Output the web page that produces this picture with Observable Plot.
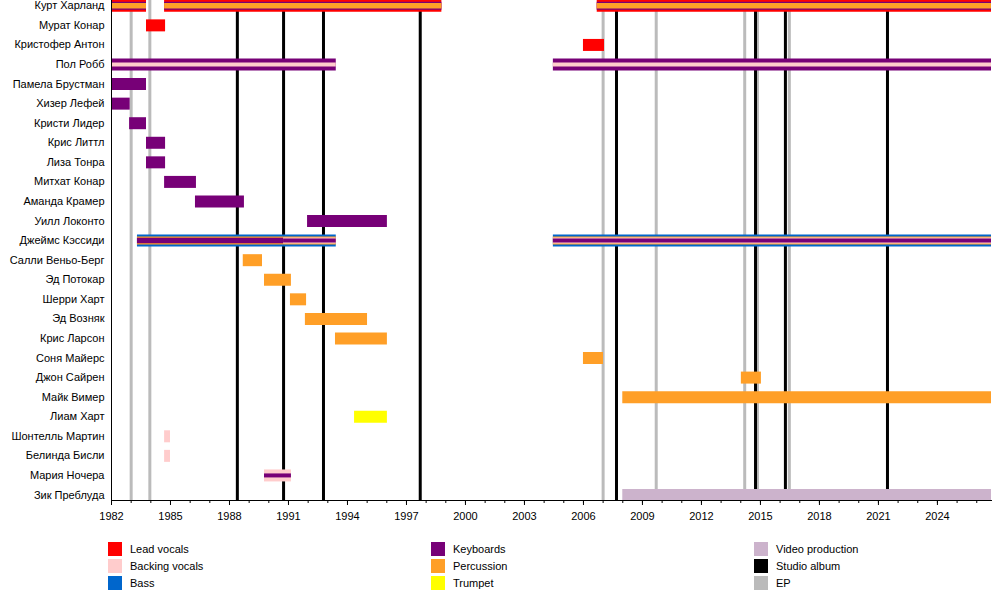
<!DOCTYPE html>
<html>
<head>
<meta charset="utf-8">
<script src="https://cdn.jsdelivr.net/npm/d3@7"></script>
<script src="https://cdn.jsdelivr.net/npm/@observablehq/plot@0.6"></script>
<style>
  body { margin: 0; background: #fff; font-family: "Liberation Sans", Arial, sans-serif; }
  #wrap { position: relative; width: 1000px; height: 600px; }
  #legend { position: absolute; left: 0; top: 0; width: 1000px; height: 600px; pointer-events: none; }
  .item { position: absolute; font-size: 11px; color: #000; height: 14px; line-height: 14px; white-space: nowrap; }
  .sw { position: absolute; left: 0; top: 0; width: 14px; height: 14px; }
  .lab { position: absolute; left: 22px; top: 0; }
</style>
</head>
<body>
<div id="wrap"><div id="chart"></div><div id="legend"></div></div>
<script>
const END = 2026.75;

const members = ["Курт Харланд","Мурат Конар","Кристофер Антон","Пол Робб","Памела Брустман","Хизер Лефей","Кристи Лидер","Крис Литтл","Лиза Тонра","Митхат Конар","Аманда Крамер","Уилл Локонто","Джеймс Кэссиди","Салли Веньо-Берг","Эд Потокар","Шерри Харт","Эд Возняк","Крис Ларсон","Соня Майерс","Джон Сайрен","Майк Вимер","Лиам Харт","Шонтелль Мартин","Белинда Бисли","Мария Ночера","Зик Преблуда"];

const roles = ["Lead vocals","Backing vocals","Bass","Keyboards","Percussion","Trumpet","Video production"];
const roleColors = ["#ff0000","#ffcccc","#0066cc","#770077","#ff9f27","#ffff00","#ccb3cc"];

// [member, start, end, roles outermost -> innermost]
const periods = [
  ["Курт Харланд", 1982, 1983.78, ["Lead vocals","Keyboards","Percussion"]],
  ["Курт Харланд", 1984.7, 1998.8, ["Lead vocals","Keyboards","Percussion"]],
  ["Курт Харланд", 2006.7, END, ["Lead vocals","Keyboards","Percussion"]],
  ["Мурат Конар", 1983.78, 1984.75, ["Lead vocals"]],
  ["Кристофер Антон", 2006.0, 2007.07, ["Lead vocals"]],
  ["Пол Робб", 1982, 1993.43, ["Keyboards","Backing vocals"]],
  ["Пол Робб", 2004.47, END, ["Keyboards","Backing vocals"]],
  ["Памела Брустман", 1982, 1983.78, ["Keyboards"]],
  ["Хизер Лефей", 1982, 1982.95, ["Keyboards"]],
  ["Кристи Лидер", 1982.92, 1983.78, ["Keyboards"]],
  ["Крис Литтл", 1983.78, 1984.75, ["Keyboards"]],
  ["Лиза Тонра", 1983.78, 1984.75, ["Keyboards"]],
  ["Митхат Конар", 1984.7, 1986.32, ["Keyboards"]],
  ["Аманда Крамер", 1986.27, 1988.76, ["Keyboards"]],
  ["Уилл Локонто", 1991.97, 1996.03, ["Keyboards"]],
  ["Джеймс Кэссиди", 1983.32, 1990.75, ["Bass","Percussion","Keyboards"]],
  ["Джеймс Кэссиди", 1990.75, 1993.43, ["Bass","Percussion","Backing vocals","Keyboards"]],
  ["Джеймс Кэссиди", 2004.47, END, ["Bass","Percussion","Backing vocals","Keyboards"]],
  ["Салли Веньо-Берг", 1988.7, 1989.68, ["Percussion"]],
  ["Эд Потокар", 1989.78, 1991.15, ["Percussion"]],
  ["Шерри Харт", 1991.1, 1991.92, ["Percussion"]],
  ["Эд Возняк", 1991.86, 1995.02, ["Percussion"]],
  ["Крис Ларсон", 1993.39, 1996.03, ["Percussion"]],
  ["Соня Майерс", 2006.0, 2007.02, ["Percussion"]],
  ["Джон Сайрен", 2014.03, 2015.05, ["Percussion"]],
  ["Майк Вимер", 2008.0, END, ["Percussion"]],
  ["Лиам Харт", 1994.36, 1996.03, ["Trumpet"]],
  ["Шонтелль Мартин", 1984.7, 1985.0, ["Backing vocals"]],
  ["Белинда Бисли", 1984.7, 1985.0, ["Backing vocals"]],
  ["Мария Ночера", 1989.78, 1991.15, ["Backing vocals","Keyboards"]],
  ["Зик Преблуда", 2008.0, END, ["Video production"]]
];

const studioAlbums = [1988.4, 1990.75, 1992.78, 1997.7, 2007.68, 2014.75, 2016.27, 2021.46];
const eps = [1983.0, 1983.95, 2007.0, 2009.7, 2014.2, 2014.85, 2016.47];
const majorTicks = d3.range(1982, 2025, 3);
const minorTicks = d3.range(1982, 2027, 1);

const layerWidths = {1: [12], 2: [12, 4], 3: [12, 8, 5.5], 4: [12, 8, 6, 4]};
const colorOf = r => roleColors[roles.indexOf(r)];

const layers = [];
for (const [name, start, end, rs] of periods) {
  const w = layerWidths[rs.length];
  rs.forEach((r, i) => layers.push({name, start, end, color: colorOf(r), width: w[i], order: i}));
}
layers.sort((a, b) => a.order - b.order);

const chart = Plot.plot({
  width: 1000,
  height: 530,
  marginLeft: 111,
  marginRight: 9,
  marginTop: 0,
  marginBottom: 30,
  style: {fontFamily: "'Liberation Sans', Arial, sans-serif", fontSize: "11px", background: "#fff", overflow: "hidden"},
  x: {domain: [1982, END]},
  y: {type: "point", domain: members, range: [5.3, 494.5], padding: 0, align: 0.5, round: false},
  color: {type: "identity"},
  marks: [
    Plot.ruleX(eps, {x: d => d, stroke: "#bbbbbb", strokeWidth: 3}),
    Plot.ruleX(studioAlbums, {x: d => d, stroke: "#000", strokeWidth: 3}),
    Plot.ruleY(layers, {y: "name", x1: "start", x2: "end", stroke: "color", strokeWidth: "width"}),
    Plot.frame({anchor: "left", stroke: "#000"}),
    Plot.frame({anchor: "bottom", stroke: "#000"}),
    Plot.axisX({ticks: minorTicks, tickSize: 3, tickFormat: null, text: null, label: null, stroke: "#000"}),
    Plot.axisX({ticks: majorTicks, tickSize: 5, tickPadding: 7, tickFormat: "d", label: null, stroke: "#000", fill: "#000"}),
    Plot.axisY({tickSize: 0, tickPadding: 7, label: null, fill: "#000"})
  ]
});
document.getElementById("chart").appendChild(chart);

const legendCols = [
  [["Lead vocals", "#ff0000"], ["Backing vocals", "#ffcccc"], ["Bass", "#0066cc"]],
  [["Keyboards", "#770077"], ["Percussion", "#ff9f27"], ["Trumpet", "#ffff00"]],
  [["Video production", "#ccb3cc"], ["Studio album", "#000000"], ["EP", "#bbbbbb"]]
];
const colX = [108, 431, 754];
const legend = document.getElementById("legend");
legendCols.forEach((col, ci) => {
  col.forEach(([label, c], ri) => {
    const it = document.createElement("div");
    it.className = "item";
    it.style.left = colX[ci] + "px";
    it.style.top = (542 + ri * 17) + "px";
    it.innerHTML = `<span class="sw" style="background:${c}"></span><span class="lab">${label}</span>`;
    legend.appendChild(it);
  });
});
</script>
</body>
</html>
